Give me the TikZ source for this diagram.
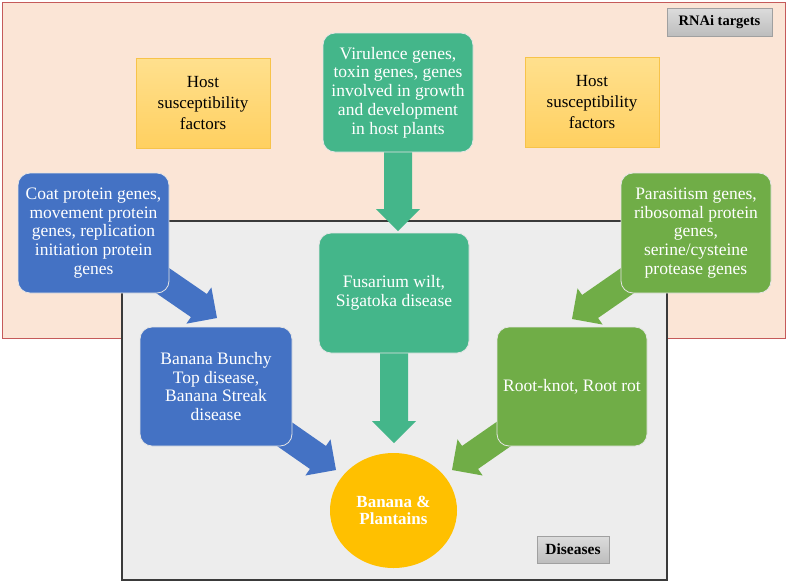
\documentclass[tikz,border=0pt]{standalone}
\usepackage{fontspec}
\setmainfont{Liberation Serif}
\usetikzlibrary{calc,shapes.geometric}
\pgfdeclarelayer{back}
\pgfdeclarelayer{arr}
\pgfsetlayers{back,arr,main}
\definecolor{rnaifill}{HTML}{FBE5D6}
\definecolor{rnaiedge}{HTML}{C55A5A}
\definecolor{disfill}{HTML}{EDEDED}
\definecolor{disedge}{HTML}{3A3A3A}
\definecolor{cblue}{HTML}{4472C4}
\definecolor{cteal}{HTML}{44B68A}
\definecolor{cgreen}{HTML}{70AD47}
\definecolor{corange}{HTML}{FFC000}
\definecolor{hosttop}{HTML}{FFE08E}
\definecolor{hostbot}{HTML}{FFD060}
\definecolor{hostedge}{HTML}{F7C34A}
\definecolor{labtop}{HTML}{DCDCDC}
\definecolor{labbot}{HTML}{BDBDBD}
\definecolor{labedge}{HTML}{A0A0A0}
\newcommand{\blockarrow}[3]{%
  \path ($(#2)!22pt!(#1.center)$) coordinate (hb);
  \fill[#3] ($(#1.center)!14pt!90:(#2)$) -- ($(hb)!14pt!90:(#2)$) -- ($(hb)!22pt!90:(#2)$) -- (#2)
    -- ($(hb)!22pt!-90:(#2)$) -- ($(hb)!14pt!-90:(#2)$) -- ($(#1.center)!14pt!-90:(#2)$) -- cycle;
}
\tikzset{
  gene/.style={rounded corners=12pt, draw=white!90!black, line width=0.8pt, text=white,
    align=center, inner sep=0pt, minimum width=150pt, minimum height=120pt,
    font=\fontsize{17.5}{18.8}\selectfont},
  host/.style={rectangle, draw=hostedge, line width=0.8pt, top color=hosttop, bottom color=hostbot,
    align=center, inner sep=0pt, minimum width=134pt, minimum height=90pt,
    font=\fontsize{17}{21}\selectfont},
  lab/.style={rectangle, draw=labedge, line width=0.8pt, top color=labtop, bottom color=labbot,
    inner sep=0pt, font=\bfseries\fontsize{14.5}{16}\selectfont},
  area/.style={rectangle, inner sep=0pt}
}
\begin{document}
\begin{tikzpicture}[x=1pt,y=-1pt]
\useasboundingbox (0,0) rectangle (787,582);
\begin{pgfonlayer}{back}
  \node[area, fill=rnaifill, draw=rnaiedge, line width=1pt, minimum width=783pt, minimum height=336pt] (rnai) at (393.5,170) {};
  \node[area, fill=disfill, draw=disedge, line width=1.1pt, minimum width=545pt, minimum height=359pt] (dis) at (394.5,400.5) {};
\end{pgfonlayer}
\node[lab, minimum width=105pt, minimum height=28pt] (rnailab) at (719.5,22) {RNAi targets};
\node[lab, minimum width=72pt, minimum height=27pt, font=\bfseries\fontsize{15.5}{16}\selectfont] (dislab) at (573,549.5) {Diseases};
\node[host] (hostL) at (203,103) {Host\\susceptibility\\factors};
\node[host] (hostR) at (592,102) {Host\\susceptibility\\factors};
\node[gene, fill=cteal, minimum height=119pt] (vir) at (398,92.5) {Virulence genes,\\toxin genes, genes\\involved in growth\\and development\\in host plants};
\node[gene, fill=cteal] (fus) at (394,293) {Fusarium wilt,\\Sigatoka disease};
\node[gene, fill=cblue, minimum width=151pt] (coat) at (93.5,233) {Coat protein genes,\\movement protein\\genes, replication\\initiation protein\\genes};
\node[gene, fill=cblue, minimum width=152pt, minimum height=119pt] (bbtd) at (216,386.5) {Banana Bunchy\\Top disease,\\Banana Streak\\disease};
\node[gene, fill=cgreen] (para) at (696,233) {Parasitism genes,\\ribosomal protein\\genes,\\serine/cysteine\\protease genes};
\node[gene, fill=cgreen, minimum height=119pt] (root) at (572,386.5) {Root-knot, Root rot};
\node[ellipse, fill=corange, inner sep=0pt, minimum width=127pt, minimum height=115pt, text=white, align=center,
  font=\bfseries\fontsize{17}{17.5}\selectfont] (banana) at (393.5,510.5) {Banana \&\\Plantains};
\coordinate (tipA) at (217,318);
\coordinate (tipB) at (336,470);
\coordinate (tipC) at (398,231);
\coordinate (tipD) at (394,443);
\coordinate (tipE) at (572,319);
\coordinate (tipF) at (452,470);
\begin{pgfonlayer}{arr}
  \blockarrow{coat}{tipA}{cblue}
  \blockarrow{bbtd}{tipB}{cblue}
  \blockarrow{vir}{tipC}{cteal}
  \blockarrow{fus}{tipD}{cteal}
  \blockarrow{para}{tipE}{cgreen}
  \blockarrow{root}{tipF}{cgreen}
\end{pgfonlayer}
\end{tikzpicture}
\end{document}
